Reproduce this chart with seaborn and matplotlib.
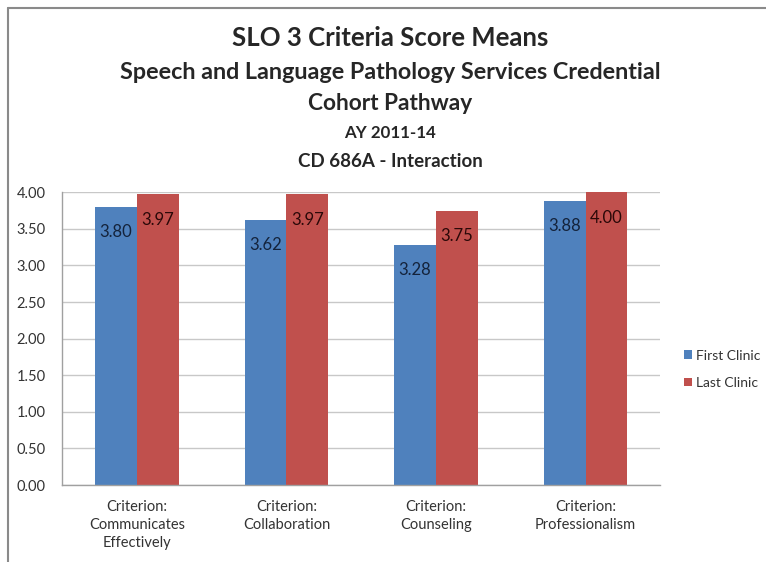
import numpy as np
import matplotlib
matplotlib.use("Agg")
import matplotlib.pyplot as plt
from matplotlib.lines import Line2D
import seaborn as sns
import pandas as pd

# data
criteria = ["Criterion:\nCommunicates\nEffectively", "Criterion:\nCollaboration",
            "Criterion:\nCounseling", "Criterion:\nProfessionalism"]
first_clinic = [3.80, 3.62, 3.28, 3.88]
last_clinic = [3.97, 3.97, 3.75, 4.00]
series = ["First Clinic", "Last Clinic"]
yticks = [0.0, 0.5, 1.0, 1.5, 2.0, 2.5, 3.0, 3.5, 4.0]

df = pd.DataFrame({
    "criterion": criteria * 2,
    "score": first_clinic + last_clinic,
    "clinic": [series[0]] * len(criteria) + [series[1]] * len(criteria),
})

sns.set_style("white")
plt.rcParams['font.family'] = ['Lato', 'DejaVu Sans']

fig = plt.figure(figsize=(7.66, 5.62), dpi=100)
ax = fig.add_axes([0.081, 0.137, 0.781, 0.521])

sns.barplot(data=df, x="criterion", y="score", hue="clinic",
            palette=["#4F81BD", "#C0504D"], width=0.56, saturation=1,
            edgecolor="none", ax=ax)

# value labels just inside the bar tops
label_colors = ["#14233b", "#2a0808"]
for cont, col in zip(ax.containers, label_colors):
    ax.bar_label(cont, fmt="%.2f", padding=-24, color=col, fontsize=12)

ax.set_ylim(0, 4)
ax.set_yticks(yticks)
ax.set_yticklabels([f"{v:.2f}" for v in yticks], fontsize=10.5, color="#333333")
ax.tick_params(axis="x", labelsize=10.5, colors="#333333", length=0, pad=11)
ax.tick_params(axis="y", length=0, pad=12)
for lbl in ax.get_xticklabels():
    lbl.set_linespacing(1.35)
ax.set_xlabel("")
ax.set_ylabel("")
ax.yaxis.grid(True, color="#c8c8c8", linewidth=1)
ax.set_axisbelow(True)
for s in ["top", "right"]:
    ax.spines[s].set_visible(False)
for s in ["left", "bottom"]:
    ax.spines[s].set_color("#a0a0a0")
    ax.spines[s].set_linewidth(1)

ax.legend(loc="center left", bbox_to_anchor=(0.877, 0.343),
          bbox_transform=fig.transFigure, frameon=False, fontsize=10,
          handlelength=0.55, handleheight=0.55, handletextpad=0.3,
          labelspacing=1.1, labelcolor="#333333")

# titles
cx = 0.509
fig.text(cx, 0.932, "SLO 3 Criteria Score Means", ha="center", va="center",
         fontsize=18.5, fontweight="bold")
fig.text(cx, 0.871, "Speech and Language Pathology Services Credential", ha="center",
         va="center", fontsize=16.8, fontweight="bold")
fig.text(cx, 0.815, "Cohort Pathway", ha="center", va="center",
         fontsize=16.3, fontweight="bold")
fig.text(cx, 0.764, "AY 2011-14", ha="center", va="center",
         fontsize=12.2, fontweight="bold")
fig.text(cx, 0.712, "CD 686A - Interaction", ha="center", va="center",
         fontsize=13.5, fontweight="bold")

# outer frame (top and left edges visible)
fig.add_artist(Line2D([8 / 766, 1], [1 - 8 / 562, 1 - 8 / 562], color="#8a8a8a", lw=1.5))
fig.add_artist(Line2D([8 / 766, 8 / 766], [0, 1 - 8 / 562], color="#8a8a8a", lw=1.5))

fig.savefig("out.png", dpi=100)
